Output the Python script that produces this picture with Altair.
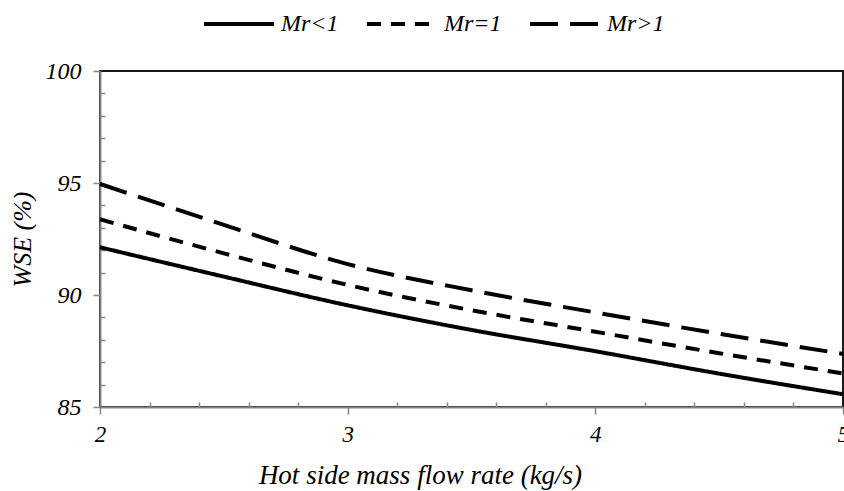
import altair as alt
import pandas as pd

# ---- data ----
x_vals = [2, 2.5, 3, 3.5, 4, 4.5, 5]
mr_lt1 = [92.13, 90.82, 89.54, 88.44, 87.49, 86.49, 85.57]
mr_eq1 = [93.38, 91.86, 90.45, 89.32, 88.36, 87.40, 86.50]
mr_gt1 = [94.96, 93.13, 91.38, 90.21, 89.22, 88.27, 87.37]
series_names = ["Mr<1", "Mr=1", "Mr>1"]

x_major = [2, 3, 4, 5]
x_minor = [2.2, 2.4, 2.6, 2.8, 3.2, 3.4, 3.6, 3.8, 4.2, 4.4, 4.6, 4.8]
y_major = [85, 90, 95, 100]
y_minor = [86, 87, 88, 89, 91, 92, 93, 94, 96, 97, 98, 99]

rows = []
for name, vals in zip(series_names, [mr_lt1, mr_eq1, mr_gt1]):
    for xv, yv in zip(x_vals, vals):
        rows.append({"x": xv, "y": yv, "series": name})
df = pd.DataFrame(rows)

FONT = "Times New Roman, Liberation Serif, DejaVu Serif, serif"
GREY = "#868686"
W, H = 743, 336

xscale = alt.Scale(domain=[2, 5], nice=False, zero=False)
yscale = alt.Scale(domain=[85, 100], nice=False, zero=False)

lines = alt.Chart(df).mark_line(
    strokeWidth=4, color="black", interpolate="monotone"
).encode(
    x=alt.X("x:Q", scale=xscale, axis=alt.Axis(
        values=x_major, format="d", grid=False,
        domainColor=GREY, domainWidth=2, tickColor=GREY, tickWidth=1.5, tickSize=7,
        labelFont=FONT, labelFontSize=23, labelFontStyle="italic", labelColor="black",
        labelPadding=9, labelFlush=False, labelOverlap=False, labelBound=False,
        title="Hot side mass flow rate (kg/s)", titleFont=FONT, titleFontSize=27,
        titleFontStyle="italic", titleFontWeight="normal", titleColor="black",
        titleX=320, titleY=76, titleAlign="center", titleBaseline="alphabetic")),
    y=alt.Y("y:Q", scale=yscale, axis=alt.Axis(
        values=y_major, format="d", grid=False,
        domainColor=GREY, domainWidth=2, tickColor=GREY, tickWidth=1.5, tickSize=7,
        labelFont=FONT, labelFontSize=24, labelFontStyle="italic", labelColor="black",
        labelPadding=12, labelFlush=False, labelOverlap=False, labelBound=False,
        title="WSE (%)", titleFont=FONT, titleFontSize=26,
        titleFontStyle="italic", titleFontWeight="normal", titleColor="black",
        titleX=-78, titleY=168, titleAngle=270, titleAlign="center",
        titleBaseline="middle")),
    strokeDash=alt.StrokeDash("series:N",
        scale=alt.Scale(domain=series_names, range=[[1, 0], [14, 10], [28, 12]]),
        legend=alt.Legend(
            title=None, orient="none", direction="horizontal",
            legendX=102, legendY=-84,
            symbolType="stroke", symbolSize=4900, symbolStrokeWidth=4,
            symbolStrokeColor="black",
            labelFont=FONT, labelFontSize=24, labelFontStyle="italic",
            labelColor="black", labelOffset=5, columnPadding=20, labelLimit=0)),
)

minor = alt.Chart(df).mark_line(opacity=0).encode(
    x=alt.X("x:Q", scale=xscale, axis=alt.Axis(
        orient="top", offset=-H, values=x_minor, labels=False, domain=False,
        grid=False, ticks=True, tickSize=5, tickColor=GREY, tickWidth=1.5, title=None)),
    y=alt.Y("y:Q", scale=yscale, axis=alt.Axis(
        orient="right", offset=-W, values=y_minor, labels=False, domain=False,
        grid=False, ticks=True, tickSize=5, tickColor=GREY, tickWidth=1.5, title=None)),
)

chart = alt.layer(lines, minor).resolve_axis(
    x="independent", y="independent"
).properties(
    width=W, height=H,
    autosize=alt.AutoSizeParams(type="none"),
    padding={"left": 100, "top": 71, "right": 1, "bottom": 84},
    background="white",
).configure_view(stroke="#1a1a1a", strokeWidth=2)

chart.save("out.html", embed_options={"renderer": "svg", "actions": False})
